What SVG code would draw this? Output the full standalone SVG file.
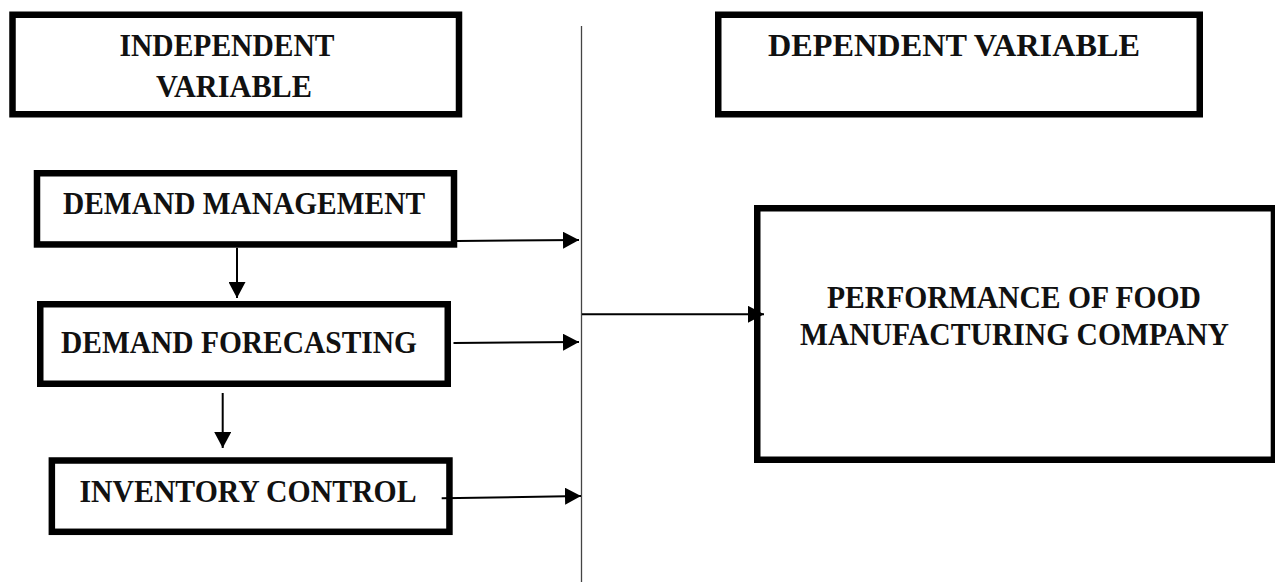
<svg xmlns="http://www.w3.org/2000/svg" width="1275" height="582" viewBox="0 0 1275 582">
<style>
.box{fill:#fff;stroke:#000;stroke-width:6.5}
.t{font-family:"Liberation Serif","Times New Roman",serif;font-weight:bold;font-size:32px;fill:#111;text-anchor:middle}
.c{stroke:#000;stroke-width:2;fill:none}
</style>
<defs>
<marker id="ah" markerUnits="userSpaceOnUse" markerWidth="17" markerHeight="17" refX="16" refY="8.5" orient="auto" viewBox="0 0 17 17">
<path d="M0,0 L16,8.5 L0,17 Z" fill="#000"/>
</marker>
</defs>
<rect width="1275" height="582" fill="#fff"/>
<g id="independent-variable">
<rect class="box" x="12.5" y="14.75" width="446.5" height="99.5"/>
<text class="t" x="227" y="56" textLength="215" lengthAdjust="spacingAndGlyphs">INDEPENDENT</text>
<text class="t" x="234" y="97" textLength="156" lengthAdjust="spacingAndGlyphs">VARIABLE</text>
</g>
<g id="dependent-variable">
<rect class="box" x="718.25" y="14.75" width="481.5" height="99.5"/>
<text class="t" x="954" y="56" textLength="372" lengthAdjust="spacingAndGlyphs">DEPENDENT VARIABLE</text>
</g>
<g id="demand-management">
<rect class="box" x="37" y="173.25" width="417" height="71.2"/>
<text class="t" x="244" y="214" textLength="362" lengthAdjust="spacingAndGlyphs">DEMAND MANAGEMENT</text>
</g>
<g id="demand-forecasting">
<rect class="box" x="40.25" y="304.25" width="407.5" height="79.5"/>
<text class="t" x="239" y="353" textLength="356" lengthAdjust="spacingAndGlyphs">DEMAND FORECASTING</text>
</g>
<g id="inventory-control">
<rect class="box" x="51.85" y="460.5" width="397.6" height="71.3"/>
<text class="t" x="248" y="502" textLength="337" lengthAdjust="spacingAndGlyphs">INVENTORY CONTROL</text>
</g>
<g id="performance">
<rect class="box" x="757.25" y="208.25" width="516.7" height="251.5"/>
<text class="t" x="1014" y="308" textLength="374" lengthAdjust="spacingAndGlyphs">PERFORMANCE OF FOOD</text>
<text class="t" x="1014.5" y="345" textLength="429" lengthAdjust="spacingAndGlyphs">MANUFACTURING COMPANY</text>
</g>
<g id="connectors">
<line x1="581.5" y1="26" x2="581.5" y2="582" stroke="#444" stroke-width="1.3"/>
<line class="c" x1="457" y1="241" x2="579" y2="240" marker-end="url(#ah)"/>
<line class="c" x1="453.5" y1="343" x2="579" y2="342" marker-end="url(#ah)"/>
<line class="c" x1="441.7" y1="498.3" x2="581" y2="496" marker-end="url(#ah)"/>
<line class="c" x1="237" y1="247.7" x2="237" y2="298" marker-end="url(#ah)"/>
<line class="c" x1="222.7" y1="393" x2="222.7" y2="448" marker-end="url(#ah)"/>
<line class="c" x1="582" y1="314.3" x2="764" y2="314.3" marker-end="url(#ah)"/>
</g>
</svg>
